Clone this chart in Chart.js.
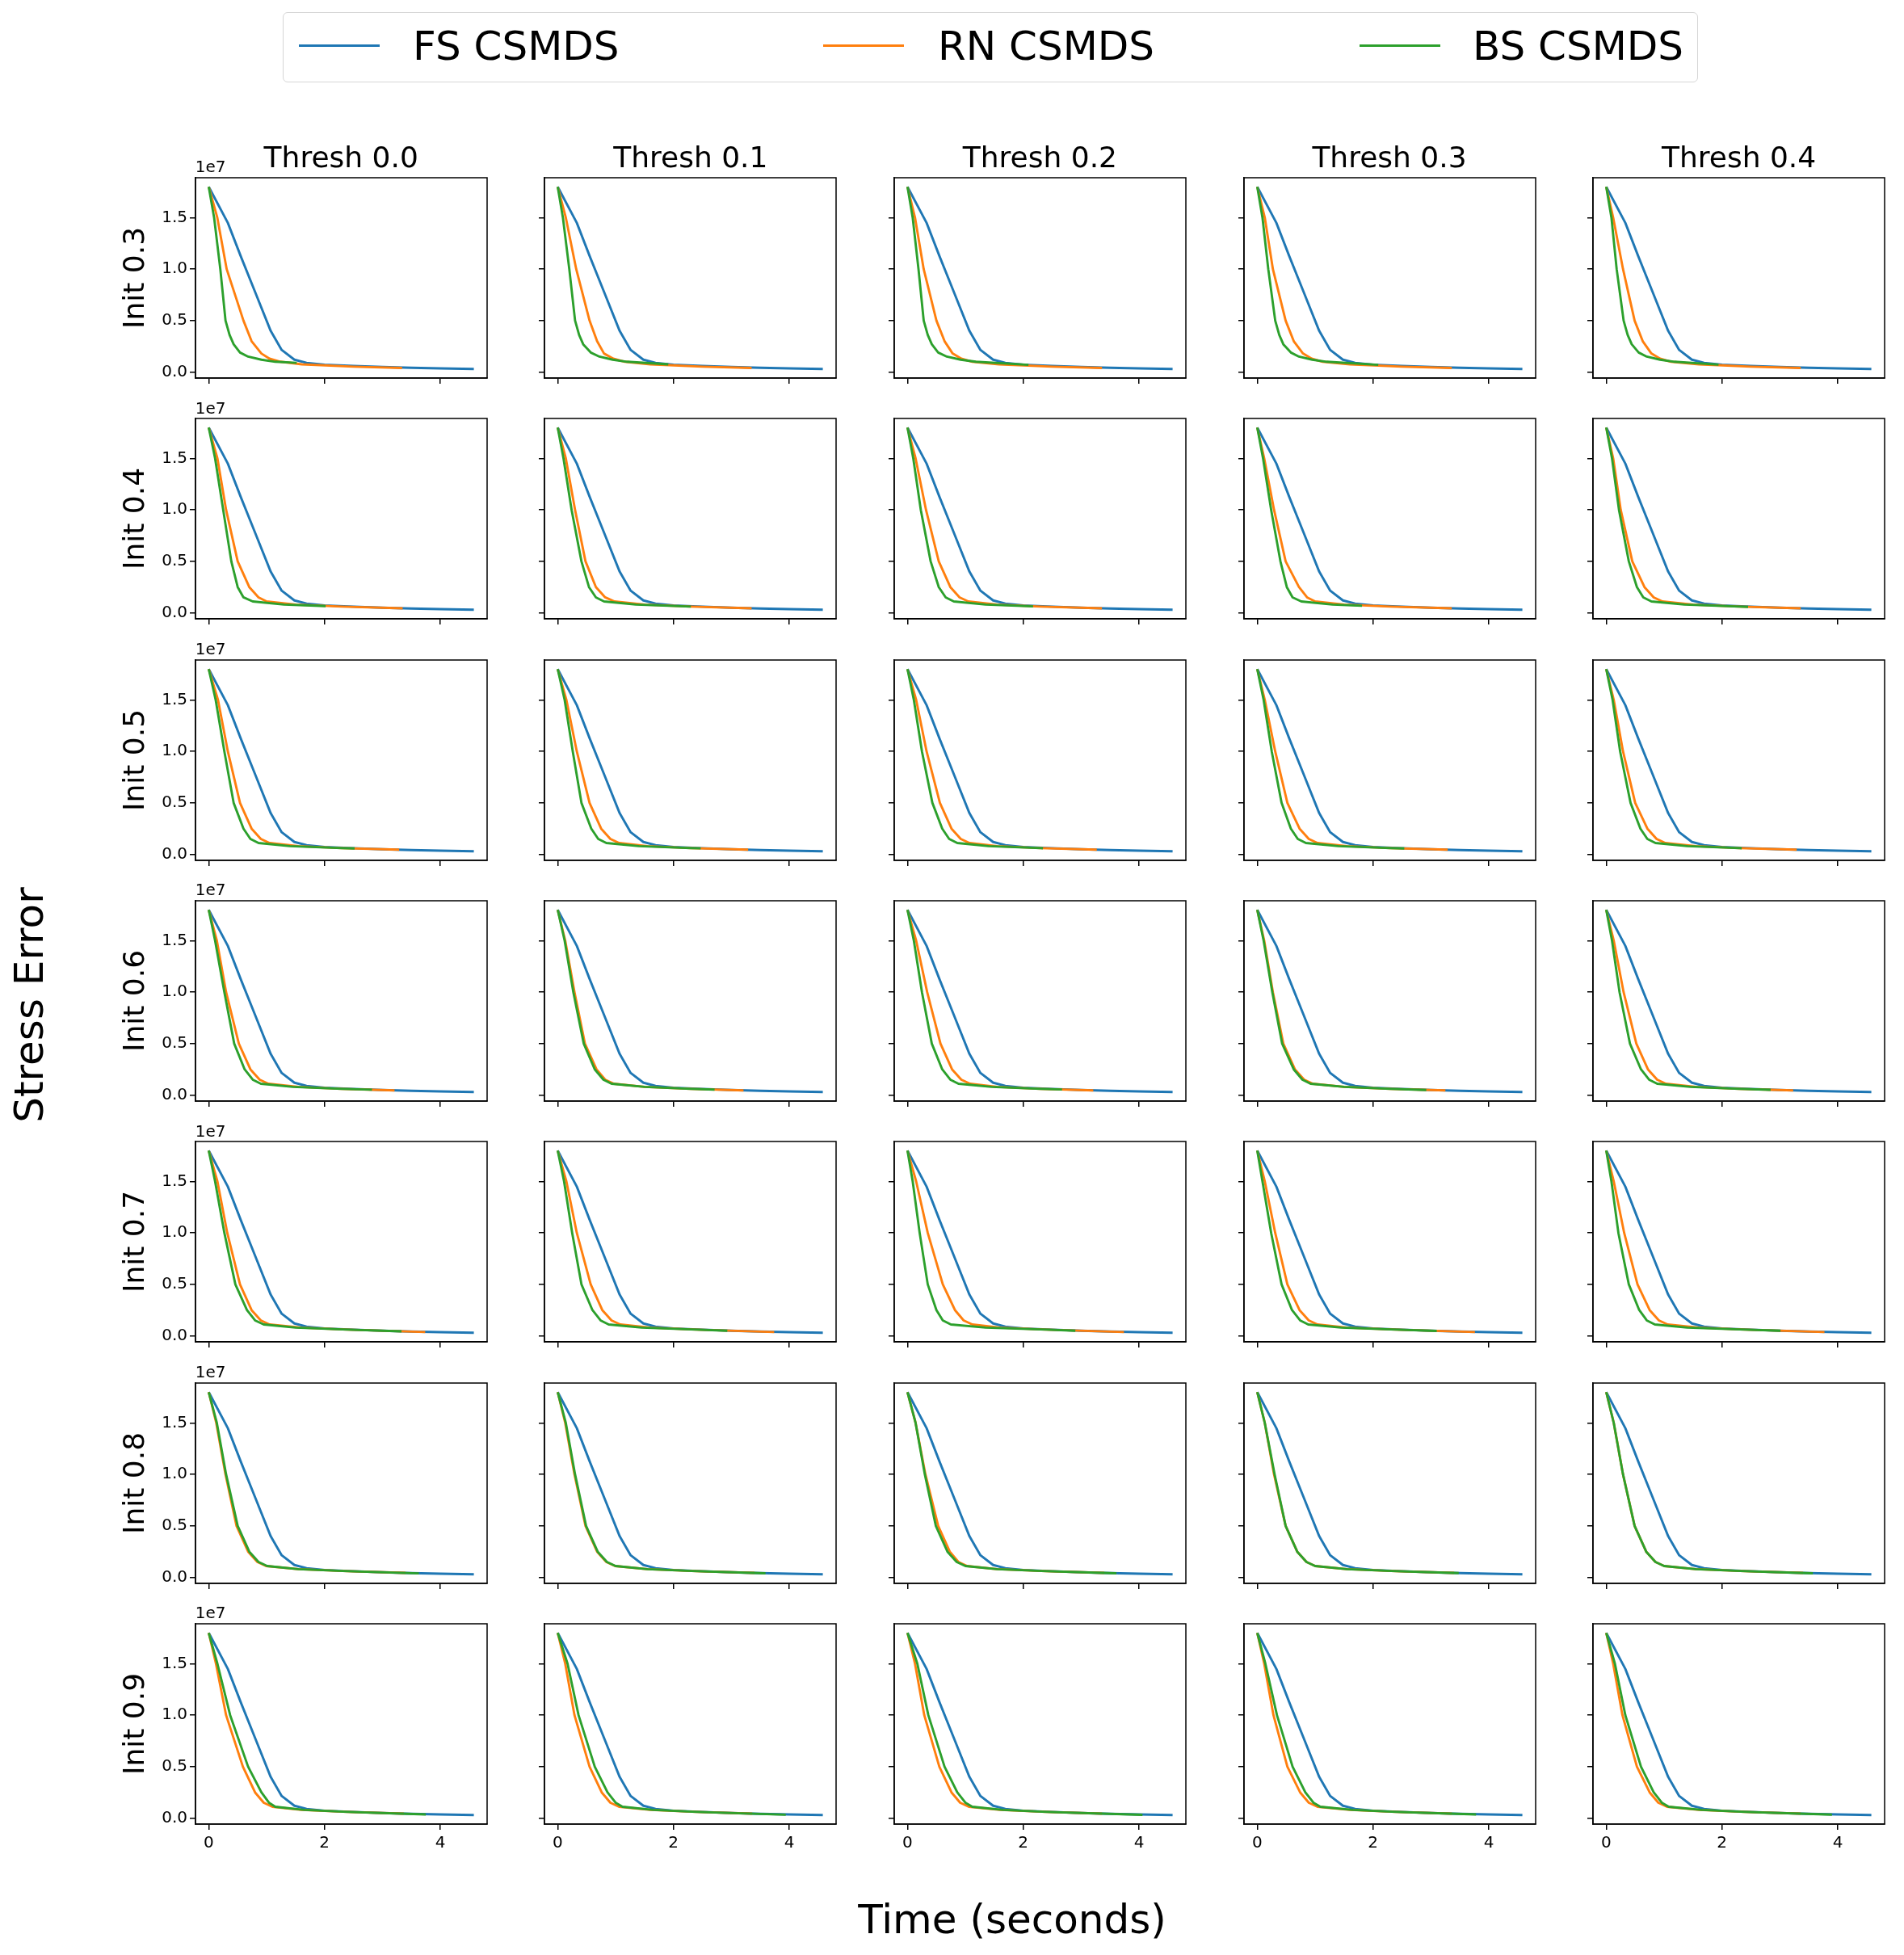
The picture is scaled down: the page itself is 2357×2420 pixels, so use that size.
<!DOCTYPE html>
<html>
<head>
<meta charset="utf-8">
<title>Stress Error vs Time</title>
<script src="https://cdn.jsdelivr.net/npm/chart.js@4.4.1/dist/chart.umd.min.js"></script>
<style>
  body { margin: 0; background: #fff; }
  #fig { position: relative; width: 2357px; height: 2420px; overflow: hidden;
         font-family: "DejaVu Sans", sans-serif; color: #000; background: #fff; }
  #fig canvas { position: absolute; }
  .txt { position: absolute; white-space: nowrap; }
</style>
</head>
<body>
<div id="fig"></div>
<script>
// ---- data (stress in units of 1e7, time in seconds) ----
const seriesNames = ['FS CSMDS', 'RN CSMDS', 'BS CSMDS'];
const initLabels = ['Init 0.3', 'Init 0.4', 'Init 0.5', 'Init 0.6', 'Init 0.7', 'Init 0.8', 'Init 0.9'];
const threshLabels = ['Thresh 0.0', 'Thresh 0.1', 'Thresh 0.2', 'Thresh 0.3', 'Thresh 0.4'];
const xTicks = [0, 2, 4];
const yTicks = [0, 0.5, 1.0, 1.5];

// FS CSMDS looks the same in every panel
const fsTime   = [0, 0.33, 0.55, 0.80, 1.07, 1.26, 1.48, 1.69, 2.00, 2.50, 3.00, 3.50, 4.00, 4.58];
const fsStress = [1.80, 1.45, 1.13, 0.78, 0.40, 0.215, 0.12, 0.09, 0.072, 0.06, 0.05, 0.042, 0.036, 0.03];

// RN CSMDS, rnTime[init][thresh]
const rnTime = [
  [[0, 0.148, 0.31, 0.60, 0.74, 0.91, 1.05, 1.24, 1.61, 2.5, 3.34],
   [0, 0.14, 0.32, 0.55, 0.68, 0.80, 0.96, 1.16, 1.60, 2.5, 3.35],
   [0, 0.13, 0.28, 0.50, 0.64, 0.78, 0.93, 1.12, 1.58, 2.5, 3.36],
   [0, 0.13, 0.27, 0.49, 0.63, 0.79, 0.94, 1.13, 1.60, 2.5, 3.36],
   [0, 0.12, 0.29, 0.49, 0.63, 0.78, 0.93, 1.12, 1.60, 2.5, 3.36]],
  [[0, 0.15, 0.30, 0.50, 0.70, 0.86, 1.00, 1.50, 2.30, 3.35],
   [0, 0.14, 0.30, 0.48, 0.66, 0.82, 0.98, 1.50, 2.30, 3.35],
   [0, 0.14, 0.32, 0.54, 0.74, 0.90, 1.05, 1.55, 2.30, 3.36],
   [0, 0.12, 0.29, 0.49, 0.72, 0.86, 1.00, 1.50, 2.30, 3.36],
   [0, 0.12, 0.25, 0.45, 0.66, 0.82, 0.97, 1.50, 2.30, 3.36]],
  [[0, 0.16, 0.33, 0.54, 0.74, 0.90, 1.05, 1.55, 2.30, 3.29],
   [0, 0.15, 0.33, 0.55, 0.75, 0.91, 1.06, 1.55, 2.30, 3.29],
   [0, 0.15, 0.33, 0.56, 0.76, 0.92, 1.07, 1.55, 2.30, 3.27],
   [0, 0.13, 0.31, 0.52, 0.73, 0.89, 1.04, 1.55, 2.30, 3.29],
   [0, 0.13, 0.29, 0.50, 0.71, 0.87, 1.02, 1.55, 2.30, 3.29]],
  [[0, 0.14, 0.30, 0.52, 0.72, 0.88, 1.03, 1.55, 2.30, 3.21],
   [0, 0.13, 0.29, 0.47, 0.67, 0.82, 0.97, 1.50, 2.30, 3.21],
   [0, 0.15, 0.34, 0.57, 0.77, 0.93, 1.08, 1.55, 2.30, 3.21],
   [0, 0.12, 0.27, 0.45, 0.65, 0.81, 0.96, 1.50, 2.30, 3.25],
   [0, 0.13, 0.30, 0.52, 0.72, 0.88, 1.03, 1.55, 2.30, 3.23]],
  [[0, 0.15, 0.32, 0.54, 0.74, 0.90, 1.05, 1.60, 2.40, 3.74],
   [0, 0.15, 0.33, 0.57, 0.77, 0.93, 1.08, 1.60, 2.40, 3.74],
   [0, 0.15, 0.35, 0.61, 0.82, 0.97, 1.12, 1.60, 2.40, 3.74],
   [0, 0.13, 0.31, 0.52, 0.73, 0.89, 1.04, 1.55, 2.40, 3.76],
   [0, 0.13, 0.31, 0.54, 0.75, 0.91, 1.06, 1.60, 2.40, 3.77]],
  [[0, 0.13, 0.29, 0.48, 0.68, 0.84, 0.99, 1.55, 2.40, 3.40],
   [0, 0.13, 0.29, 0.48, 0.68, 0.84, 0.99, 1.55, 2.40, 3.40],
   [0, 0.14, 0.31, 0.53, 0.73, 0.88, 1.03, 1.55, 2.40, 3.40],
   [0, 0.13, 0.29, 0.49, 0.69, 0.85, 1.00, 1.55, 2.40, 3.40],
   [0, 0.13, 0.29, 0.49, 0.69, 0.85, 1.00, 1.55, 2.40, 3.40]],
  [[0, 0.125, 0.30, 0.59, 0.80, 0.95, 1.10, 1.60, 2.40, 3.37],
   [0, 0.13, 0.29, 0.55, 0.76, 0.91, 1.06, 1.60, 2.40, 3.36],
   [0, 0.13, 0.29, 0.55, 0.76, 0.91, 1.06, 1.60, 2.40, 3.36],
   [0, 0.12, 0.28, 0.52, 0.74, 0.89, 1.04, 1.60, 2.40, 3.36],
   [0, 0.12, 0.28, 0.53, 0.75, 0.90, 1.05, 1.60, 2.40, 3.36]]
];
const rnStress = [
  [[1.80, 1.50, 1.00, 0.50, 0.30, 0.18, 0.13, 0.10, 0.075, 0.052, 0.040],
   [1.80, 1.50, 1.00, 0.50, 0.30, 0.18, 0.13, 0.10, 0.075, 0.052, 0.040],
   [1.80, 1.50, 1.00, 0.50, 0.30, 0.18, 0.13, 0.10, 0.075, 0.052, 0.040],
   [1.80, 1.50, 1.00, 0.50, 0.30, 0.18, 0.13, 0.10, 0.075, 0.052, 0.040],
   [1.80, 1.50, 1.00, 0.50, 0.30, 0.18, 0.13, 0.10, 0.075, 0.052, 0.040]],
  [[1.80, 1.50, 1.00, 0.50, 0.25, 0.15, 0.11, 0.08, 0.06, 0.044],
   [1.80, 1.50, 1.00, 0.50, 0.25, 0.15, 0.11, 0.08, 0.06, 0.044],
   [1.80, 1.50, 1.00, 0.50, 0.25, 0.15, 0.11, 0.08, 0.06, 0.044],
   [1.80, 1.50, 1.00, 0.50, 0.25, 0.15, 0.11, 0.08, 0.06, 0.044],
   [1.80, 1.50, 1.00, 0.50, 0.25, 0.15, 0.11, 0.08, 0.06, 0.044]],
  [[1.80, 1.50, 1.00, 0.50, 0.25, 0.15, 0.11, 0.08, 0.06, 0.045],
   [1.80, 1.50, 1.00, 0.50, 0.25, 0.15, 0.11, 0.08, 0.06, 0.045],
   [1.80, 1.50, 1.00, 0.50, 0.25, 0.15, 0.11, 0.08, 0.06, 0.045],
   [1.80, 1.50, 1.00, 0.50, 0.25, 0.15, 0.11, 0.08, 0.06, 0.045],
   [1.80, 1.50, 1.00, 0.50, 0.25, 0.15, 0.11, 0.08, 0.06, 0.045]],
  [[1.80, 1.50, 1.00, 0.50, 0.25, 0.15, 0.11, 0.08, 0.06, 0.046],
   [1.80, 1.50, 1.00, 0.50, 0.25, 0.15, 0.11, 0.08, 0.06, 0.046],
   [1.80, 1.50, 1.00, 0.50, 0.25, 0.15, 0.11, 0.08, 0.06, 0.046],
   [1.80, 1.50, 1.00, 0.50, 0.25, 0.15, 0.11, 0.08, 0.06, 0.046],
   [1.80, 1.50, 1.00, 0.50, 0.25, 0.15, 0.11, 0.08, 0.06, 0.046]],
  [[1.80, 1.50, 1.00, 0.50, 0.25, 0.15, 0.11, 0.08, 0.06, 0.037],
   [1.80, 1.50, 1.00, 0.50, 0.25, 0.15, 0.11, 0.08, 0.06, 0.037],
   [1.80, 1.50, 1.00, 0.50, 0.25, 0.15, 0.11, 0.08, 0.06, 0.037],
   [1.80, 1.50, 1.00, 0.50, 0.25, 0.15, 0.11, 0.08, 0.06, 0.037],
   [1.80, 1.50, 1.00, 0.50, 0.25, 0.15, 0.11, 0.08, 0.06, 0.037]],
  [[1.80, 1.50, 1.00, 0.50, 0.25, 0.15, 0.11, 0.08, 0.06, 0.043],
   [1.80, 1.50, 1.00, 0.50, 0.25, 0.15, 0.11, 0.08, 0.06, 0.043],
   [1.80, 1.50, 1.00, 0.50, 0.25, 0.15, 0.11, 0.08, 0.06, 0.043],
   [1.80, 1.50, 1.00, 0.50, 0.25, 0.15, 0.11, 0.08, 0.06, 0.043],
   [1.80, 1.50, 1.00, 0.50, 0.25, 0.15, 0.11, 0.08, 0.06, 0.043]],
  [[1.80, 1.50, 1.00, 0.50, 0.25, 0.15, 0.11, 0.08, 0.06, 0.044],
   [1.80, 1.50, 1.00, 0.50, 0.25, 0.15, 0.11, 0.08, 0.06, 0.044],
   [1.80, 1.50, 1.00, 0.50, 0.25, 0.15, 0.11, 0.08, 0.06, 0.044],
   [1.80, 1.50, 1.00, 0.50, 0.25, 0.15, 0.11, 0.08, 0.06, 0.044],
   [1.80, 1.50, 1.00, 0.50, 0.25, 0.15, 0.11, 0.08, 0.06, 0.044]]
];

// BS CSMDS, bsTime[init][thresh]
const bsTime = [
  [[0, 0.093, 0.20, 0.29, 0.36, 0.43, 0.54, 0.68, 0.91, 1.15, 1.52],
   [0, 0.09, 0.20, 0.30, 0.37, 0.44, 0.57, 0.72, 0.95, 1.20, 1.91],
   [0, 0.09, 0.19, 0.28, 0.35, 0.42, 0.53, 0.68, 0.92, 1.18, 2.09],
   [0, 0.09, 0.19, 0.31, 0.38, 0.45, 0.58, 0.72, 0.95, 1.20, 2.09],
   [0, 0.09, 0.18, 0.30, 0.37, 0.44, 0.56, 0.70, 0.93, 1.18, 1.94]],
  [[0, 0.11, 0.25, 0.39, 0.50, 0.60, 0.76, 1.30, 2.02],
   [0, 0.10, 0.24, 0.41, 0.54, 0.66, 0.80, 1.35, 2.30],
   [0, 0.10, 0.23, 0.40, 0.54, 0.66, 0.80, 1.35, 2.17],
   [0, 0.10, 0.24, 0.40, 0.51, 0.61, 0.76, 1.30, 1.81],
   [0, 0.10, 0.22, 0.39, 0.53, 0.64, 0.78, 1.35, 2.30, 2.45]],
  [[0, 0.12, 0.27, 0.43, 0.60, 0.72, 0.86, 1.40, 2.30, 2.52],
   [0, 0.12, 0.26, 0.41, 0.58, 0.70, 0.84, 1.40, 2.30, 2.47],
   [0, 0.11, 0.25, 0.43, 0.60, 0.72, 0.86, 1.40, 2.30, 2.34],
   [0, 0.11, 0.25, 0.42, 0.58, 0.70, 0.84, 1.40, 2.30, 2.54],
   [0, 0.11, 0.24, 0.42, 0.59, 0.71, 0.85, 1.40, 2.30, 2.34]],
  [[0, 0.11, 0.27, 0.44, 0.62, 0.76, 0.90, 1.45, 2.30, 2.82],
   [0, 0.12, 0.27, 0.45, 0.64, 0.79, 0.93, 1.50, 2.30, 2.71],
   [0, 0.11, 0.25, 0.42, 0.60, 0.74, 0.88, 1.45, 2.30, 2.67],
   [0, 0.11, 0.26, 0.43, 0.63, 0.78, 0.92, 1.50, 2.30, 2.92],
   [0, 0.10, 0.23, 0.41, 0.60, 0.74, 0.88, 1.45, 2.30, 2.84]],
  [[0, 0.11, 0.27, 0.46, 0.66, 0.80, 0.95, 1.50, 2.40, 3.33],
   [0, 0.11, 0.25, 0.41, 0.60, 0.74, 0.88, 1.45, 2.40, 2.93],
   [0, 0.09, 0.21, 0.35, 0.50, 0.61, 0.75, 1.35, 2.40, 2.90],
   [0, 0.09, 0.24, 0.42, 0.60, 0.74, 0.88, 1.45, 2.40, 3.10],
   [0, 0.09, 0.21, 0.39, 0.57, 0.70, 0.84, 1.40, 2.40, 3.01]],
  [[0, 0.14, 0.30, 0.50, 0.70, 0.86, 1.01, 1.55, 2.40, 3.63],
   [0, 0.14, 0.30, 0.49, 0.69, 0.85, 1.00, 1.55, 2.40, 3.59],
   [0, 0.14, 0.30, 0.49, 0.69, 0.85, 1.00, 1.55, 2.40, 3.61],
   [0, 0.13, 0.30, 0.49, 0.69, 0.85, 1.00, 1.55, 2.40, 3.48],
   [0, 0.13, 0.29, 0.49, 0.69, 0.85, 1.00, 1.55, 2.40, 3.57]],
  [[0, 0.15, 0.37, 0.68, 0.91, 1.04, 1.15, 1.65, 2.40, 3.75],
   [0, 0.17, 0.36, 0.64, 0.86, 1.00, 1.12, 1.65, 2.40, 3.94],
   [0, 0.17, 0.36, 0.64, 0.86, 1.00, 1.12, 1.65, 2.40, 4.06],
   [0, 0.14, 0.34, 0.61, 0.83, 0.97, 1.09, 1.65, 2.40, 3.78],
   [0, 0.15, 0.33, 0.60, 0.82, 0.96, 1.08, 1.65, 2.40, 3.90]]
];
const bsStress = [
  [[1.80, 1.50, 1.00, 0.50, 0.36, 0.27, 0.19, 0.15, 0.12, 0.10, 0.090],
   [1.80, 1.50, 1.00, 0.50, 0.36, 0.27, 0.19, 0.15, 0.12, 0.10, 0.075],
   [1.80, 1.50, 1.00, 0.50, 0.36, 0.27, 0.19, 0.15, 0.12, 0.10, 0.070],
   [1.80, 1.50, 1.00, 0.50, 0.36, 0.27, 0.19, 0.15, 0.12, 0.10, 0.070],
   [1.80, 1.50, 1.00, 0.50, 0.36, 0.27, 0.19, 0.15, 0.12, 0.10, 0.072]],
  [[1.80, 1.50, 1.00, 0.50, 0.25, 0.15, 0.11, 0.08, 0.065],
   [1.80, 1.50, 1.00, 0.50, 0.25, 0.15, 0.11, 0.08, 0.060],
   [1.80, 1.50, 1.00, 0.50, 0.25, 0.15, 0.11, 0.08, 0.062],
   [1.80, 1.50, 1.00, 0.50, 0.25, 0.15, 0.11, 0.08, 0.068],
   [1.80, 1.50, 1.00, 0.50, 0.25, 0.15, 0.11, 0.08, 0.06, 0.057]],
  [[1.80, 1.50, 1.00, 0.50, 0.25, 0.15, 0.11, 0.08, 0.06, 0.057],
   [1.80, 1.50, 1.00, 0.50, 0.25, 0.15, 0.11, 0.08, 0.06, 0.058],
   [1.80, 1.50, 1.00, 0.50, 0.25, 0.15, 0.11, 0.08, 0.06, 0.059],
   [1.80, 1.50, 1.00, 0.50, 0.25, 0.15, 0.11, 0.08, 0.06, 0.057],
   [1.80, 1.50, 1.00, 0.50, 0.25, 0.15, 0.11, 0.08, 0.06, 0.059]],
  [[1.80, 1.50, 1.00, 0.50, 0.25, 0.15, 0.11, 0.08, 0.06, 0.052],
   [1.80, 1.50, 1.00, 0.50, 0.25, 0.15, 0.11, 0.08, 0.06, 0.053],
   [1.80, 1.50, 1.00, 0.50, 0.25, 0.15, 0.11, 0.08, 0.06, 0.054],
   [1.80, 1.50, 1.00, 0.50, 0.25, 0.15, 0.11, 0.08, 0.06, 0.050],
   [1.80, 1.50, 1.00, 0.50, 0.25, 0.15, 0.11, 0.08, 0.06, 0.051]],
  [[1.80, 1.50, 1.00, 0.50, 0.25, 0.15, 0.11, 0.08, 0.06, 0.043],
   [1.80, 1.50, 1.00, 0.50, 0.25, 0.15, 0.11, 0.08, 0.06, 0.050],
   [1.80, 1.50, 1.00, 0.50, 0.25, 0.15, 0.11, 0.08, 0.06, 0.050],
   [1.80, 1.50, 1.00, 0.50, 0.25, 0.15, 0.11, 0.08, 0.06, 0.048],
   [1.80, 1.50, 1.00, 0.50, 0.25, 0.15, 0.11, 0.08, 0.06, 0.049]],
  [[1.80, 1.50, 1.00, 0.50, 0.25, 0.15, 0.11, 0.08, 0.06, 0.039],
   [1.80, 1.50, 1.00, 0.50, 0.25, 0.15, 0.11, 0.08, 0.06, 0.040],
   [1.80, 1.50, 1.00, 0.50, 0.25, 0.15, 0.11, 0.08, 0.06, 0.040],
   [1.80, 1.50, 1.00, 0.50, 0.25, 0.15, 0.11, 0.08, 0.06, 0.042],
   [1.80, 1.50, 1.00, 0.50, 0.25, 0.15, 0.11, 0.08, 0.06, 0.040]],
  [[1.80, 1.50, 1.00, 0.50, 0.25, 0.15, 0.11, 0.08, 0.06, 0.036],
   [1.80, 1.50, 1.00, 0.50, 0.25, 0.15, 0.11, 0.08, 0.06, 0.033],
   [1.80, 1.50, 1.00, 0.50, 0.25, 0.15, 0.11, 0.08, 0.06, 0.032],
   [1.80, 1.50, 1.00, 0.50, 0.25, 0.15, 0.11, 0.08, 0.06, 0.036],
   [1.80, 1.50, 1.00, 0.50, 0.25, 0.15, 0.11, 0.08, 0.06, 0.034]]
];

// ---- layout ----
const colors = ['#1f77b4', '#ff7f0e', '#2ca02c'];
const FONT = '"DejaVu Sans", sans-serif';
const AX_LEFT = 241.7, AX_TOP = 220, COL_STEP = 432.6, ROW_STEP = 298.3;
const AX_W = 361, AX_H = 248;
const PAD_L = 70, PAD_T = 20, PAD_R = 12, PAD_B = 45;
const X_MIN = -0.229, X_MAX = 4.809, Y_MIN = -0.0585, Y_MAX = 1.8885;

const fig = document.getElementById('fig');

// text placed by its baseline; align 'left' or 'center'
function addText(str, x, baseline, size, align) {
  const d = document.createElement('div');
  d.className = 'txt';
  d.textContent = str;
  d.style.fontSize = size + 'px';
  d.style.lineHeight = size + 'px';
  d.style.top = (baseline - 0.846 * size) + 'px';
  if (align === 'center') {
    d.style.left = (x - 1000) + 'px';
    d.style.width = '2000px';
    d.style.textAlign = 'center';
  } else {
    d.style.left = x + 'px';
  }
  fig.appendChild(d);
}

// rotated (reads bottom to top); baselineX is where the baseline sits
function addVText(str, baselineX, centerY, size) {
  const d = document.createElement('div');
  d.className = 'txt';
  d.textContent = str;
  d.style.fontSize = size + 'px';
  d.style.lineHeight = size + 'px';
  d.style.width = '1000px';
  d.style.height = size + 'px';
  d.style.textAlign = 'center';
  const cx = baselineX - 0.346 * size;
  d.style.left = (cx - 500) + 'px';
  d.style.top = (centerY - size / 2) + 'px';
  d.style.transform = 'rotate(-90deg)';
  fig.appendChild(d);
}

const frame = {
  id: 'frame',
  afterDraw(chart) {
    const { ctx, chartArea: a } = chart;
    ctx.save();
    ctx.strokeStyle = '#000';
    ctx.lineWidth = 1.5;
    ctx.strokeRect(a.left, a.top, a.right - a.left, a.bottom - a.top);
    ctx.restore();
  }
};

function pts(ts, ys) {
  return ts.map((t, i) => ({ x: t, y: ys[i] }));
}

function makePanel(r, c) {
  const cv = document.createElement('canvas');
  cv.width = PAD_L + AX_W + PAD_R;
  cv.height = PAD_T + AX_H + PAD_B;
  cv.style.left = Math.round(AX_LEFT + c * COL_STEP - PAD_L) + 'px';
  cv.style.top = Math.round(AX_TOP + r * ROW_STEP - PAD_T) + 'px';
  fig.appendChild(cv);

  new Chart(cv, {
    type: 'line',
    data: {
      datasets: [
        { label: seriesNames[0], data: pts(fsTime, fsStress), borderColor: colors[0], order: 3 },
        { label: seriesNames[1], data: pts(rnTime[r][c], rnStress[r][c]), borderColor: colors[1], order: 2 },
        { label: seriesNames[2], data: pts(bsTime[r][c], bsStress[r][c]), borderColor: colors[2], order: 1 }
      ]
    },
    options: {
      responsive: false,
      animation: false,
      devicePixelRatio: 1,
      layout: { padding: { left: 0, top: PAD_T, right: PAD_R, bottom: 0 } },
      elements: {
        line: { borderWidth: 2.9, tension: 0, fill: false, borderJoinStyle: 'round' },
        point: { radius: 0 }
      },
      plugins: { legend: { display: false }, tooltip: { enabled: false }, title: { display: false } },
      scales: {
        x: {
          type: 'linear', min: X_MIN, max: X_MAX,
          afterBuildTicks: a => { a.ticks = xTicks.map(v => ({ value: v })); },
          afterFit: s => { s.height = PAD_B; },
          grid: { drawOnChartArea: false, drawTicks: true, tickLength: 7, color: '#000', lineWidth: 1.5 },
          border: { display: true, color: '#000', width: 1.5 },
          ticks: {
            color: '#000', font: { family: FONT, size: 20 }, padding: 5,
            maxRotation: 0, autoSkip: false,
            callback: v => (r === initLabels.length - 1 ? String(v) : '')
          }
        },
        y: {
          type: 'linear', min: Y_MIN, max: Y_MAX,
          afterBuildTicks: a => { a.ticks = yTicks.map(v => ({ value: v })); },
          afterFit: s => { s.width = PAD_L; },
          grid: { drawOnChartArea: false, drawTicks: true, tickLength: 7, color: '#000', lineWidth: 1.5 },
          border: { display: true, color: '#000', width: 1.5 },
          ticks: {
            color: '#000', font: { family: FONT, size: 20 }, padding: 3,
            autoSkip: false,
            callback: v => (c === 0 ? v.toFixed(1) : '')
          }
        }
      }
    },
    plugins: [frame]
  });
}

for (let r = 0; r < initLabels.length; r++) {
  for (let c = 0; c < threshLabels.length; c++) {
    makePanel(r, c);
  }
  const top = AX_TOP + r * ROW_STEP;
  addVText(initLabels[r], 178, top + AX_H / 2, 36);
  addText('1e7', AX_LEFT, top - 6.7, 20, 'left');
}
threshLabels.forEach((t, c) => {
  addText(t, AX_LEFT + c * COL_STEP + AX_W / 2, AX_TOP - 12.7, 36, 'center');
});

addVText('Stress Error', 53, 1244, 50);
addText('Time (seconds)', 1253, 2393, 50, 'center');

// legend box along the top
const box = document.createElement('div');
box.style.cssText = 'position:absolute;left:350px;top:15px;width:1752px;height:87px;' +
  'border:1.5px solid #d6d6d6;border-radius:6px;box-sizing:border-box;';
fig.appendChild(box);
const handleX = [370, 1019, 1683];
const textX = [511, 1161, 1823];
seriesNames.forEach((name, i) => {
  const h = document.createElement('div');
  h.style.cssText = 'position:absolute;left:' + handleX[i] + 'px;top:55px;width:100px;height:3px;background:' + colors[i] + ';';
  fig.appendChild(h);
  addText(name, textX[i], 74.5, 50, 'left');
});
</script>
</body>
</html>
